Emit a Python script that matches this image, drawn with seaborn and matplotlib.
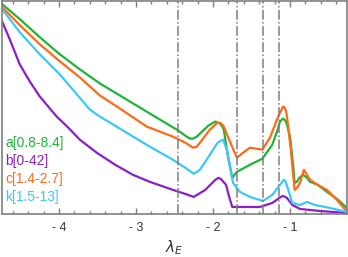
import pandas as pd
import seaborn as sns
import matplotlib.pyplot as plt
from matplotlib.ticker import MultipleLocator

# (lambda_E, arbitrary intensity)
a_x = [-4.74, -4.51, -4.25, -3.99, -3.73, -3.47, -3.21, -2.95, -2.69, -2.47, -2.36, -2.30, -2.26, -2.21, -2.17,
       -2.06, -1.97, -1.91, -1.88, -1.86, -1.81, -1.75, -1.69, -1.52, -1.36, -1.23, -1.16, -1.13, -1.09, -1.06, -1.04,
       -1.00, -0.96, -0.94, -0.91, -0.88, -0.83, -0.78, -0.74, -0.64, -0.52, -0.39, -0.26]
a_y = [209, 194, 176, 159, 144, 130, 118, 106, 94, 84, 78, 75, 75, 77, 80,
       88, 92, 90, 87, 84, 59, 36, 42, 49, 55, 69, 84, 92, 95, 93, 89,
       77, 49, 31, 32, 36, 39, 36, 32, 29, 22, 15, 6]

b_x = [-4.74, -4.64, -4.51, -4.38, -4.25, -4.03, -3.88, -3.73, -3.51, -3.27, -3.04, -2.82, -2.52,
       -2.36, -2.25, -2.10, -1.97, -1.93, -1.90, -1.83, -1.79, -1.75, -1.58, -1.39, -1.23, -1.12, -1.09, -1.04,
       -0.97, -0.87, -0.61, -0.26]
b_y = [192, 174, 149, 132, 117, 97, 86, 74, 61, 49, 39, 32, 24,
       20, 17, 24, 34, 36, 35, 29, 17, 7, 7, 7, 11, 17, 18, 16,
       9, 5, 3, 1]

c_x = [-4.74, -4.51, -4.25, -3.99, -3.73, -3.47, -3.21, -2.86, -2.52, -2.36, -2.26, -2.21, -2.17, -2.04,
       -1.94, -1.89, -1.86, -1.78, -1.69, -1.61, -1.52, -1.36, -1.26, -1.17, -1.11, -1.09, -1.07, -1.05, -1.03, -0.99,
       -0.94, -0.91, -0.87, -0.82, -0.78, -0.74, -0.64, -0.52, -0.39, -0.26]
c_y = [206, 188, 169, 152, 136, 118, 105, 87, 77, 71, 66, 67, 71, 84,
       91, 90, 87, 72, 56, 61, 66, 64, 76, 94, 104, 107, 106, 102, 91, 64,
       24, 26, 31, 44, 39, 34, 29, 24, 14, 2]

k_x = [-4.74, -4.51, -4.25, -3.99, -3.60, -3.47, -3.08, -2.82, -2.52, -2.36, -2.25, -2.17, -2.04,
       -1.94, -1.87, -1.82, -1.74, -1.65, -1.52, -1.35, -1.23, -1.13, -1.08, -1.06, -1.03, -0.97, -0.87,
       -0.78, -0.68, -0.48, -0.26]
k_y = [204, 181, 159, 139, 104, 97, 79, 67, 54, 46, 40, 44, 59,
       71, 74, 64, 31, 22, 17, 13, 19, 29, 34, 33, 26, 11, 9,
       12, 9, 6, 2]

labels = ['a[0.8-8.4]', 'b[0-42]', 'c[1.4-2.7]', 'k[1.5-13]']
colors = ['#1fb33c', '#8a1ec8', '#ff6a18', '#3cc8f5']
vlines = [-2.45, -1.69, -1.35, -1.14]
xticks = [-4, -3, -2, -1]
xticklabels = ['- 4', '- 3', '- 2', '- 1']

sns.set_style('white')
plt.rcParams['font.family'] = ['Liberation Sans', 'DejaVu Sans']

fig = plt.figure(figsize=(3.48, 2.57), dpi=100)
ax = fig.add_axes([2 / 348, 43 / 257, 345 / 348, 213 / 257])

series = [(a_x, a_y), (b_x, b_y), (c_x, c_y), (k_x, k_y)]
for (xs, ys), lab, col in zip(series, labels, colors):
    df = pd.DataFrame({'x': xs, 'y': ys})
    sns.lineplot(data=df, x='x', y='y', ax=ax, color=col, linewidth=1.6, sort=False,
                 solid_joinstyle='round')

for v in vlines:
    ax.axvline(v, color='#7f7f7f', linestyle='-.', linewidth=1.1)

ax.set_xlim(-4.74, -0.26)
ax.set_ylim(0, 212)
ax.set_yticks([])
ax.set_xticks(xticks)
ax.set_xticklabels(xticklabels, fontsize=9, color='#333333')
ax.xaxis.set_minor_locator(MultipleLocator(0.2))
ax.tick_params(axis='x', which='both', direction='in', top=True, bottom=True,
               color='#7f7f7f', width=1, pad=6)
ax.tick_params(axis='x', which='major', length=4)
ax.tick_params(axis='x', which='minor', length=2.5)
for s in ax.spines.values():
    s.set_color('#7f7f7f')
    s.set_linewidth(1.2)
ax.set_xlabel(r'$\lambda_E$', fontsize=11, labelpad=3, color='#333333')
ax.set_ylabel('')

for i, (lab, col) in enumerate(zip(labels, colors)):
    ax.text(0.01, 0.333 - i * 0.084, lab, color=col, fontsize=10,
            transform=ax.transAxes, va='center', ha='left')

fig.savefig('out.png', dpi=100)
